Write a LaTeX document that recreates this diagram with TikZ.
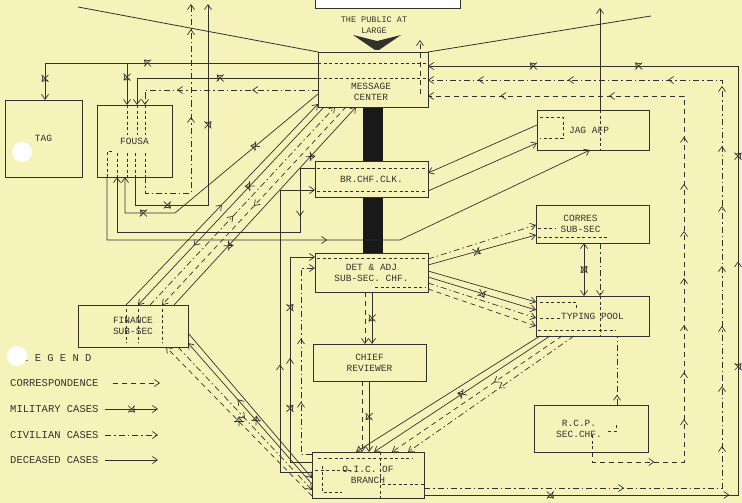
\documentclass[tikz,border=0pt]{standalone}
\usepackage{fontspec}
\newfontfamily\tw{Liberation Mono}
\usetikzlibrary{arrows.meta,decorations.markings,calc}
\definecolor{paper}{RGB}{246,243,186}
\definecolor{ink}{RGB}{50,50,45}
\tikzset{
  myb/.tip={Straight Barb[length=5pt,width=7pt]},
  box/.style={draw=ink, line width=0.9pt, fill=paper, anchor=north west, inner sep=0pt, outer sep=0pt,
    font=\tw\fontsize{9.5}{11}\selectfont, align=center, text=ink},
  con/.style={draw=ink, line width=0.7pt, -myb},
  dec/.style={con},
  corr/.style={con, dash pattern=on 5pt off 4pt},
  civ/.style={con, dash pattern=on 6pt off 3pt on 1.5pt off 3pt},
  mil/.style={con},
  xm/.style={postaction={decorate,decoration={markings,mark=at position #1 with {\draw[solid,line width=0.7pt,ink] (-3.5pt,-3.5pt)--(3.5pt,3.5pt) (-3.5pt,3.5pt)--(3.5pt,-3.5pt);}}}},
  ma/.style={postaction={decorate,decoration={markings,mark=at position #1 with {\arrow[ink]{myb}}}}},
  mas/.style args={#1:#2:#3}{postaction={decorate,decoration={markings,mark=between positions #1 and #2 step #3 with {\arrow[ink]{myb}}}}},
  inner/.style={draw=ink, line width=0.6pt, dash pattern=on 3pt off 2.5pt},
  lgtext/.style={anchor=west, inner sep=0pt, font=\tw\fontsize{10.5}{12}\selectfont, text=ink},
}
\begin{document}
\begin{tikzpicture}[x=1pt,y=-1pt]
\useasboundingbox (0,0) rectangle (742,503);
\fill[paper] (0,0) rectangle (742,503);

% free ends
\coordinate (tA) at (191,4);
\coordinate (tB) at (208,4);
\coordinate (tC) at (600,8);
\coordinate (fl) at (78,7);
\coordinate (fr) at (651,16);

% top box and public
\draw[ink, line width=0.9pt, fill=white] (315,-3) rectangle (460,8);
\node[inner sep=0pt, align=center, font=\tw\fontsize{8.5}{11}\selectfont, text=ink] (pub) at (374,25) {THE PUBLIC AT\\LARGE};
\fill[ink] (353,35) -- (377,41) -- (401,35) -- (379,50) -- (375,50) -- cycle;

% black bar
\fill[black!90] (363,107) rectangle (383,253);

% funnel lines
\draw[ink, line width=0.8pt] (fl) -- (318,52);
\draw[ink, line width=0.8pt] (428,52) -- (fr);

% boxes
\node[box, minimum width=110pt, minimum height=55pt] (mc) at (318,52) {};
\node[inner sep=0pt, align=center, font=\tw\fontsize{9.5}{11}\selectfont, text=ink] (mct) at (371,92) {MESSAGE\\CENTER};
\node[box, minimum width=77pt, minimum height=77pt] (tag) at (5,100) {TAG};
\node[box, minimum width=75pt, minimum height=72pt] (fousa) at (97,105) {FOUSA};
\node[box, minimum width=112pt, minimum height=40pt] (jag) at (537,110) {\hspace*{-8pt}JAG AFP};
\node[box, minimum width=113pt, minimum height=36pt] (brc) at (315,161) {BR.CHF.CLK.};
\node[box, minimum width=113pt, minimum height=39pt] (det) at (315,253) {DET \& ADJ\\SUB-SEC. CHF.};
\node[box, minimum width=113pt, minimum height=38pt] (corres) at (536,205) {\hspace*{-24pt}CORRES\\\hspace*{-24pt}SUB-SEC};
\node[box, minimum width=113pt, minimum height=40pt] (typing) at (536,296) {TYPING POOL};
\node[box, minimum width=110pt, minimum height=42pt] (fin) at (78,305) {FINANCE\\SUB-SEC};
\node[box, minimum width=113pt, minimum height=37pt] (chief) at (313,344) {CHIEF\\REVIEWER};
\node[box, minimum width=114pt, minimum height=47pt] (rcp) at (534,405) {\hspace*{-24pt}R.C.P.\\\hspace*{-24pt}SEC.CHF.};
\node[box, minimum width=112pt, minimum height=46pt] (oic) at (312,452) {O.I.C. OF\\BRANCH};

% inner textures
\draw[inner] ([shift={(0,11)}]mc.north west) -- ([shift={(110,11)}]mc.north west);
\draw[inner] ([shift={(0,26)}]mc.north west) -- ([shift={(110,26)}]mc.north west);
\draw[inner] ([shift={(2,7)}]brc.north west) -- ([shift={(111,7)}]brc.north west);
\draw[inner] ([shift={(2,30)}]brc.north west) -- ([shift={(111,30)}]brc.north west);
\draw[inner] ([shift={(2,5)}]det.north west) -- ([shift={(111,5)}]det.north west);
\draw[inner] ([shift={(60,34)}]det.north west) -- ([shift={(111,34)}]det.north west);
\draw[inner] ([shift={(3,7)}]jag.north west) -- ([shift={(26,7)}]jag.north west) -- ([shift={(26,28)}]jag.north west) -- ([shift={(3,28)}]jag.north west);
\draw[inner] ([shift={(63,0)}]jag.north west) -- ([shift={(63,40)}]jag.north west);
\draw[inner] ([shift={(2,23)}]corres.north west) -- ([shift={(20,23)}]corres.north west);
\draw[inner] ([shift={(2,32)}]corres.north west) -- ([shift={(72,32)}]corres.north west);
\draw[inner] ([shift={(4,6)}]typing.north west) -- ([shift={(40,6)}]typing.north west) -- ([shift={(40,14)}]typing.north west);
\draw[inner] ([shift={(4,22)}]typing.north west) -- ([shift={(24,22)}]typing.north west);
\draw[inner] ([shift={(2,34)}]typing.north west) -- ([shift={(80,34)}]typing.north west);
\draw[inner] ([shift={(64,0)}]typing.north west) -- ([shift={(64,40)}]typing.north west);
\draw[inner] ([shift={(6,6)}]oic.north west) -- ([shift={(100,6)}]oic.north west);
\draw[inner] ([shift={(68,0)}]oic.north west) -- ([shift={(68,46)}]oic.north west);
\draw[inner] ([shift={(3,18)}]oic.north west) -- ([shift={(40,18)}]oic.north west);
\draw[inner] ([shift={(10,14)}]oic.north west) -- ([shift={(10,40)}]oic.north west) -- ([shift={(30,40)}]oic.north west);
\draw[inner] ([shift={(70,32)}]oic.north west) -- ([shift={(112,32)}]oic.north west);
\draw[inner] ([shift={(30,0)}]fousa.north west) -- ([shift={(30,30)}]fousa.north west);
\draw[inner] ([shift={(40,0)}]fousa.north west) -- ([shift={(40,30)}]fousa.north west);
\draw[inner] ([shift={(48,0)}]fousa.north west) -- ([shift={(48,30)}]fousa.north west);
\draw[inner] ([shift={(10,72)}]fousa.north west) -- ([shift={(10,46)}]fousa.north west) -- ([shift={(16,46)}]fousa.north west);
\draw[inner] ([shift={(20,48)}]fousa.north west) -- ([shift={(20,72)}]fousa.north west);
\draw[inner] ([shift={(30,48)}]fousa.north west) -- ([shift={(30,72)}]fousa.north west);
\draw[inner] ([shift={(38,48)}]fousa.north west) -- ([shift={(38,72)}]fousa.north west);
\draw[inner] ([shift={(48,48)}]fousa.north west) -- ([shift={(48,72)}]fousa.north west);
\draw[inner] ([shift={(48,4)}]fin.north west) -- ([shift={(48,38)}]fin.north west);
\draw[inner] ([shift={(60,4)}]fin.north west) -- ([shift={(60,38)}]fin.north west);
\draw[inner] ([shift={(84,4)}]fin.north west) -- ([shift={(84,38)}]fin.north west);
\draw[inner] ([shift={(58,30)}]rcp.north west) -- ([shift={(58,47)}]rcp.north west);
\draw[inner] ([shift={(82,20)}]rcp.north west) -- ([shift={(82,26)}]rcp.north west) -- ([shift={(74,26)}]rcp.north west);

% ---- left top connectors
\draw[mil, xm=0.55, xm=0.93] ([shift={(0,11)}]mc.north west) -| ([shift={(40,0)}]tag.north west);
\draw[mil, xm=0.88] ([shift={(0,11)}]mc.north west) -| ([shift={(30,0)}]fousa.north west);
\draw[mil, xm=0.47] ([shift={(0,26)}]mc.north west) -| ([shift={(40,0)}]fousa.north west);
\draw[civ, ma=0.35, ma=0.75] ([shift={(0,38)}]mc.north west) -| ([shift={(48,0)}]fousa.north west);
\draw[civ, ma=0.55, ma=0.9] ([shift={(48,72)}]fousa.north west) -- ++(0,16) -| (tA);
\draw[mil, xm=0.2, xm=0.6] ([shift={(38,72)}]fousa.north west) -- ++(0,28) -| (tB);
\draw[mil, xm=0.3, xm=0.8] ([shift={(0,42)}]mc.north west) -- ++(-143,119) -| ([shift={(28,72)}]fousa.north west);
\draw[dec, ma=0.2] ([shift={(0,7)}]brc.north west) -- ++(-15,0) -- ++(0,64) -| ([shift={(20,72)}]fousa.north west);
\draw[dec, ma=0.5] ([shift={(10,72)}]fousa.north west) -- ++(0,63) -- ++(293,0) -- ([shift={(53,40)}]jag.north west);

% ---- MC to FINANCE bundle
\draw[dec, ma=0.5] ([shift={(48,0)}]fin.north west) -- ([shift={(0,52)}]mc.north west);
\draw[mil, xm=0.4, ma=0.7] ([shift={(6,55)}]mc.north west) -- ([shift={(60,0)}]fin.north west);
\draw[civ, ma=0.45] ([shift={(72,0)}]fin.north west) -- ([shift={(17,55)}]mc.north west);
\draw[corr, ma=0.5] ([shift={(28,55)}]mc.north west) -- ([shift={(84,0)}]fin.north west);
\draw[mil, xm=0.3, xm=0.75] ([shift={(96,0)}]fin.north west) -- ([shift={(38,55)}]mc.north west);

% ---- FINANCE to OIC bundle
\draw[dec] ([shift={(110,28)}]fin.north west) -- ([shift={(0,26)}]oic.north west);
\draw[mil, xm=0.45, ma=0.6] ([shift={(0,32)}]oic.north west) -- ([shift={(110,38)}]fin.north west);
\draw[civ, ma=0.5] ([shift={(100,42)}]fin.north west) -- ([shift={(0,38)}]oic.north west);
\draw[corr, xm=0.5] ([shift={(0,44)}]oic.north west) -- ([shift={(88,42)}]fin.north west);

% ---- OIC up to DET / BR.CHF.CLK
\draw[dec, ma=0.4] ([shift={(0,20)}]oic.north west) -- ++(-32,0) |- ([shift={(0,29)}]brc.north west);
\draw[mil, xm=0.3, xm=0.7, ma=0.5] ([shift={(0,10)}]oic.north west) -- ++(-22,0) |- ([shift={(0,4)}]det.north west);
\draw[civ, ma=0.3, ma=0.6] ([shift={(0,2)}]oic.north west) -- ++(-11,0) |- ([shift={(0,15)}]det.north west);

% ---- BR.CHF.CLK <-> JAG
\draw[dec] ([shift={(0,15)}]jag.north west) -- ([shift={(113,12)}]brc.north west);
\draw[dec] ([shift={(113,30)}]brc.north west) -- ([shift={(0,33)}]jag.north west);
\draw[dec] ([shift={(63,0)}]jag.north west) -- (tC);

% ---- DET to CHIEF to OIC
\draw[corr] ([shift={(50,39)}]det.north west) -- ([shift={(52,0)}]chief.north west);
\draw[mil, xm=0.5] ([shift={(57,39)}]det.north west) -- ([shift={(59,0)}]chief.north west);
\draw[corr] ([shift={(49,37)}]chief.north west) -- ([shift={(50,0)}]oic.north west);
\draw[mil, xm=0.5] ([shift={(56,37)}]chief.north west) -- ([shift={(57,0)}]oic.north west);

% ---- DET to CORRES / TYPING
\draw[civ] ([shift={(113,6)}]det.north west) -- ([shift={(0,20)}]corres.north west);
\draw[mil, xm=0.45] ([shift={(113,12)}]det.north west) -- ([shift={(0,30)}]corres.north west);
\draw[dec] ([shift={(113,18)}]det.north west) -- ([shift={(0,6)}]typing.north west);
\draw[mil, xm=0.5] ([shift={(113,24)}]det.north west) -- ([shift={(0,14)}]typing.north west);
\draw[civ] ([shift={(113,30)}]det.north west) -- ([shift={(0,22)}]typing.north west);
\draw[corr] ([shift={(113,36)}]det.north west) -- ([shift={(0,30)}]typing.north west);

% ---- CORRES to TYPING
\draw[mil, myb-myb, xm=0.5] ([shift={(48,38)}]corres.north west) -- ([shift={(48,0)}]typing.north west);
\draw[civ] ([shift={(64,38)}]corres.north west) -- ([shift={(64,0)}]typing.north west);

% ---- TYPING to OIC
\draw[dec] ([shift={(4,40)}]typing.north west) -- ([shift={(44,0)}]oic.north west);
\draw[mil, xm=0.5] ([shift={(14,40)}]typing.north west) -- ([shift={(62,0)}]oic.north west);
\draw[corr, ma=0.4] ([shift={(26,40)}]typing.north west) -- ([shift={(80,0)}]oic.north west);
\draw[civ, ma=0.45] ([shift={(38,40)}]typing.north west) -- ([shift={(96,0)}]oic.north west);

% ---- TYPING / RCP
\draw[civ, -, ma=0.15] ([shift={(83,0)}]rcp.north west) -- ([shift={(81,40)}]typing.north west);

% ---- right loops back to MESSAGE CENTER
\draw[corr, mas=0.2:0.62:0.065, ma=0.1, ma=0.75, ma=0.9] ([shift={(58,47)}]rcp.north west) -- ++(0,10) -- ++(92,0) |- ([shift={(110,44)}]mc.north west);
\draw[civ, mas=0.34:0.7:0.06, ma=0.2, ma=0.76, ma=0.86, ma=0.95] ([shift={(112,36)}]oic.north west) -- ++(298,0) |- ([shift={(110,28)}]mc.north west);
\draw[mil, xm=0.12, ma=0.29, xm=0.42, ma=0.52, xm=0.62, xm=0.8, xm=0.9] ([shift={(112,43)}]oic.north west) -- ++(314,0) |- ([shift={(110,14)}]mc.north west);
\draw[corr] ([shift={(102,42)}]mc.north west) -- ([shift={(102,-12)}]mc.north west);

% ---- legend
\node[lgtext] (lgh) at (22,358) {L E G E N D};
\node[lgtext] (lg1) at (10,383) {CORRESPONDENCE};
\node[lgtext] (lg2) at (10,409) {MILITARY CASES};
\node[lgtext] (lg3) at (10,435) {CIVILIAN CASES};
\node[lgtext] (lg4) at (10,460) {DECEASED CASES};
\coordinate (l1a) at (113,383); \coordinate (l1b) at (160,383);
\coordinate (l2a) at (105,409); \coordinate (l2b) at (158,409);
\coordinate (l3a) at (105,435); \coordinate (l3b) at (158,435);
\coordinate (l4a) at (105,460); \coordinate (l4b) at (158,460);
\draw[corr] (l1a) -- (l1b);
\draw[mil, xm=0.5] (l2a) -- (l2b);
\draw[civ] (l3a) -- (l3b);
\draw[dec] (l4a) -- (l4b);

% punch holes
\fill[white] (22,152) circle (10);
\fill[white] (17,356) circle (10);
\end{tikzpicture}
\end{document}
